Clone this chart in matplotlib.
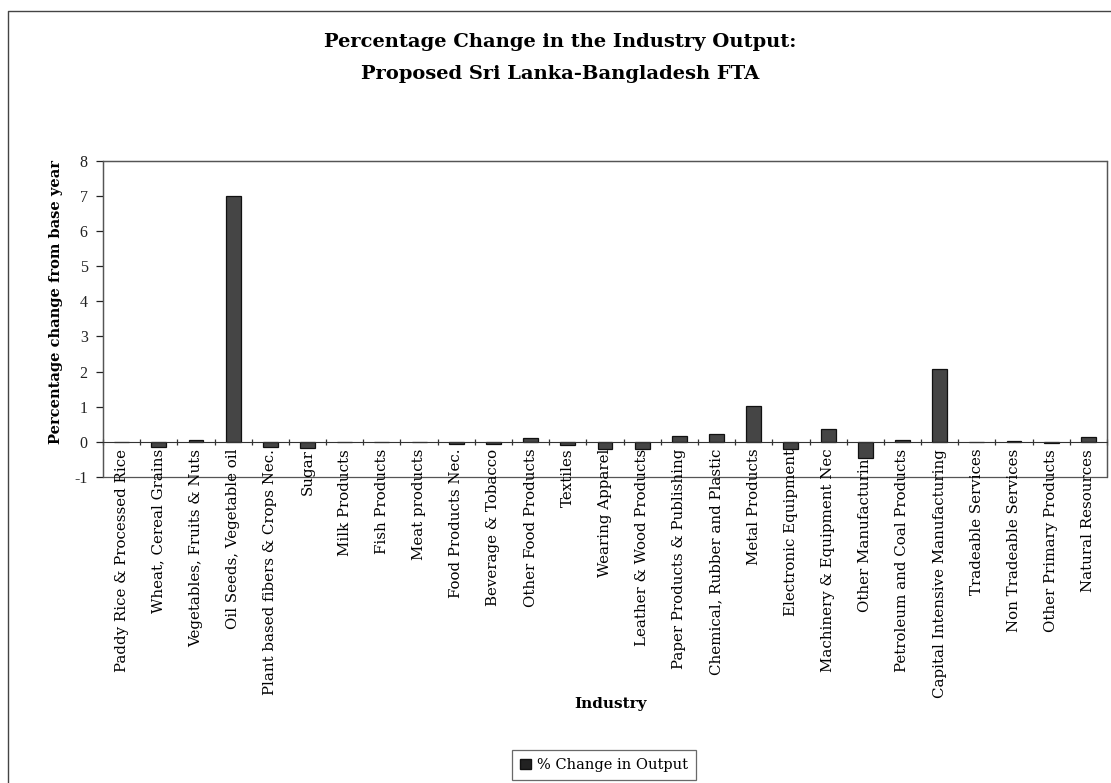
import matplotlib
matplotlib.use("Agg")
import matplotlib.pyplot as plt
import numpy as np
from matplotlib.patches import Patch, Rectangle
from matplotlib.lines import Line2D

industries = [
    "Paddy Rice & Processed Rice", "Wheat, Cereal Grains", "Vegetables, Fruits & Nuts",
    "Oil Seeds, Vegetable oil", "Plant based fibers & Crops Nec.", "Sugar",
    "Milk Products", "Fish Products", "Meat products", "Food Products Nec.",
    "Beverage & Tobacco", "Other Food Products", "Textiles", "Wearing Apparel",
    "Leather & Wood Products", "Paper Products & Publishing",
    "Chemical, Rubber and Plastic", "Metal Products", "Electronic Equipment",
    "Machinery & Equipment Nec", "Other Manufacturing", "Petroleum and Coal Products",
    "Capital Intensive Manufacturing", "Tradeable Services", "Non Tradeable Services",
    "Other Primary Products", "Natural Resources",
]
pct_change = [
    0.0, -0.16, 0.05, 7.0, -0.15, -0.17,
    0.0, 0.0, 0.0, -0.05, -0.05, 0.12, -0.08, -0.2,
    -0.2, 0.17, 0.22, 1.03, -0.2, 0.37, -0.45, 0.04,
    2.06, 0.0, 0.03, -0.03, 0.13,
]
yticks = [-1, 0, 1, 2, 3, 4, 5, 6, 7, 8]

plt.rcParams["font.family"] = ["DejaVu Serif"]
plt.rcParams["axes.unicode_minus"] = False
wide = ["DejaVu Serif"]
narrow = ["Liberation Serif", "DejaVu Serif"]

fig = plt.figure(figsize=(11.11, 7.83), dpi=100)
ax = fig.add_axes([103 / 1111, 1 - 477 / 783, (1107 - 103) / 1111, (477 - 160.7) / 783])

x = np.arange(len(industries))
ax.bar(x, pct_change, width=0.4, color="#454545", edgecolor="#111111", linewidth=0.9,
       label="% Change in Output", zorder=3)

ax.set_xlim(-0.5, len(industries) - 0.5)
ax.set_ylim(yticks[0], yticks[-1])
ax.set_yticks(yticks)
ax.tick_params(axis="y", direction="out", length=5, width=0.9, pad=6, colors="#222222")
for lab in ax.get_yticklabels():
    lab.set_family(narrow)
    lab.set_fontsize(11.5)

# x axis crossing at zero
ax.spines["bottom"].set_position(("data", 0))
ax.spines["bottom"].set_color("#333333")
ax.spines["bottom"].set_zorder(4)
for s in ["left", "top", "right"]:
    ax.spines[s].set_color("#555555")
    ax.spines[s].set_linewidth(0.9)
ax.add_patch(Rectangle((0, 0), 1, 1, transform=ax.transAxes, fill=False,
                       edgecolor="#555555", linewidth=0.9, zorder=1, clip_on=False))

ax.set_xticks(x)
ax.set_xticklabels(industries, rotation=90, ha="center", va="top", fontsize=10.8, family=wide)
ax.set_xticks(np.arange(len(industries) + 1) - 0.5, minor=True)
ax.tick_params(axis="x", which="major", length=0, pad=5)
ax.tick_params(axis="x", which="minor", length=5, direction="inout", width=0.9, colors="#333333")

ax.set_ylabel("Percentage change from base year", fontsize=10.5, fontweight="bold", family=wide)
ax.yaxis.set_label_coords(-0.040, (477 - 302) / (477 - 160.7))

fig.text(0.504, 1 - 42 / 783, "Percentage Change in the Industry Output:", ha="center", va="center",
         fontsize=14, fontweight="bold", family=wide)
fig.text(0.504, 1 - 74 / 783, "Proposed Sri Lanka-Bangladesh FTA", ha="center", va="center",
         fontsize=14, fontweight="bold", family=wide)
fig.text(611 / 1111, 1 - 704 / 783, "Industry", ha="center", va="center", fontsize=11,
         fontweight="bold", family=wide)

handles = [Patch(facecolor="#222222", edgecolor="#111111", label="% Change in Output")]
leg = fig.legend(handles=handles, loc="center", bbox_to_anchor=(604 / 1111, 1 - 765 / 783),
                 prop={"family": wide, "size": 10.5}, frameon=True, fancybox=False,
                 edgecolor="#444444", handlelength=0.7, handleheight=0.7, handletextpad=0.4,
                 borderpad=0.55)
leg.get_frame().set_linewidth(0.9)

# outer chart frame (top and left edges visible)
fig.add_artist(Line2D([8 / 1111, 8 / 1111, 1110 / 1111], [0, 1 - 11 / 783, 1 - 11 / 783],
                      transform=fig.transFigure, color="#444444", linewidth=1.0))

fig.savefig("out.png", dpi=100)
